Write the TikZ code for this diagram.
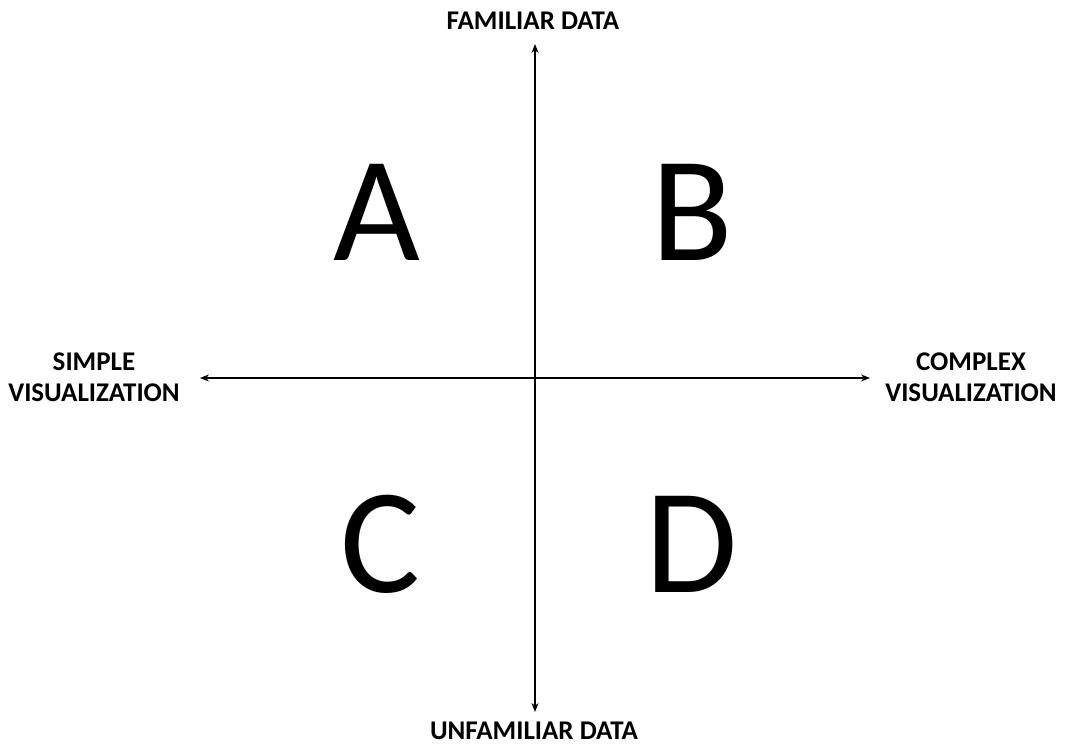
\documentclass[tikz,border=0pt]{standalone}
\usepackage{fontspec}
\setmainfont{Carlito}
\usetikzlibrary{arrows.meta}
\begin{document}
\begin{tikzpicture}[x=1pt,y=-1pt,
  axis/.style={line width=1.3pt,-{Stealth[length=9pt,width=7pt]}},
  axlabel/.style={font=\bfseries\fontsize{27}{31}\selectfont,align=center,inner sep=0pt},
  quad/.style={font=\fontsize{150}{150}\selectfont,inner sep=0pt}]
\useasboundingbox (0,0) rectangle (1068,746);
\coordinate (O) at (535,378);
\coordinate (top) at (535,44);
\coordinate (bot) at (535,712);
\coordinate (left) at (200,378);
\coordinate (right) at (870,378);
\draw[axis] (O) -- (top);
\draw[axis] (O) -- (bot);
\draw[axis] (O) -- (left);
\draw[axis] (O) -- (right);
\node[axlabel] (fam) at (533,21) {FAMILIAR DATA};
\node[axlabel] (unf) at (534,731) {UNFAMILIAR DATA};
\node[axlabel] (simp) at (94,377) {SIMPLE\\VISUALIZATION};
\node[axlabel] (comp) at (971,377) {COMPLEX\\VISUALIZATION};
\node[quad] (A) at (377,212) {A};
\node[quad] (B) at (692,212) {B};
\node[quad] (C) at (380,544) {C};
\node[quad] (D) at (692,544) {D};
\end{tikzpicture}
\end{document}
